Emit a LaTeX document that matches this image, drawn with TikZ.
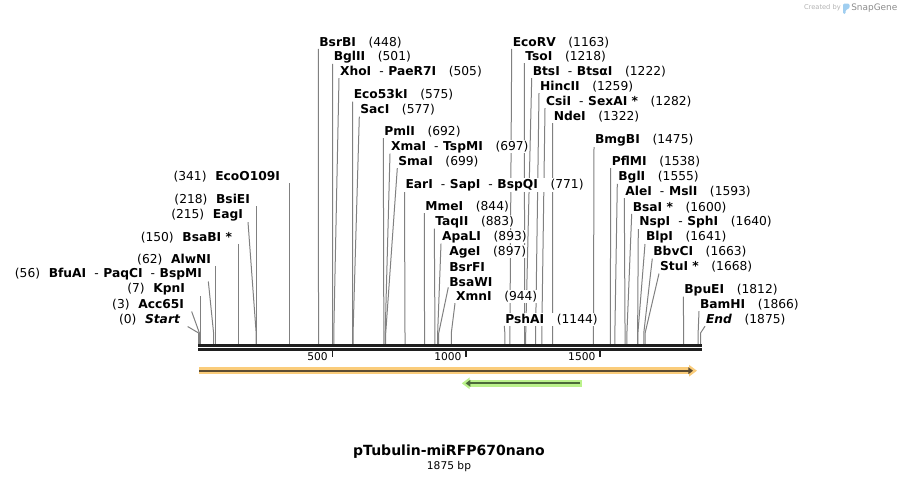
\documentclass[tikz,border=0pt]{standalone}
\usepackage{fontspec}
\setmainfont{DejaVu Sans}
\usetikzlibrary{arrows.meta,backgrounds}

\definecolor{orangeband}{RGB}{250,204,122}
\definecolor{orangeline}{RGB}{92,76,50}
\definecolor{greenband}{RGB}{187,242,140}
\definecolor{greenline}{RGB}{76,106,58}
\definecolor{logoblue}{RGB}{160,206,240}

\newcommand{\siter}[2]{#1\hspace{9.5pt}{\mdseries(#2)}}
\newcommand{\sitel}[2]{{\mdseries(#2)}\hspace{6.5pt}#1}
\newcommand{\orcut}{\hspace{6pt}{\mdseries-}\hspace{3.5pt}}

\tikzset{
  enz/.style={fill=white, inner sep=0.6pt, font=\fontsize{9.2}{10}\selectfont\bfseries},
  enzr/.style={enz, anchor=west},
  enzl/.style={enz, anchor=east},
  lead/.style={draw=black!50, line width=0.75pt},
  backbone/.style={draw=black!88, line width=1.9pt},
  tickmark/.style={draw=black!88, line width=1.4pt},
  ticklbl/.style={anchor=east, inner sep=0pt, font=\fontsize{8}{9}\selectfont},
  featband/.style={line width=5pt},
  featline/.style={line width=1.6pt},
}

\begin{document}
\begin{tikzpicture}[x=0.75pt,y=-0.75pt]
  \useasboundingbox (0,0) rectangle (900,483);

  % Sites on the backbone
  \foreach \b in {0,3,7,56,62,150,215,218,341,448,501,505,575,577,692,697,699,
                  771,844,883,893,897,944,1144,1163,1218,1222,1259,1282,1322,
                  1475,1538,1555,1593,1600,1640,1641,1663,1668,1812,1866,1875} {
    \coordinate (s_\b) at ({198.6+\b*0.2677},344);
    \coordinate (k_\b) at ({198.6+\b*0.2677},333);
  }

  % Nodes, left of the sites
  \node[enzl] (l_start)    at (181,320)   {\sitel{{\itshape Start}}{0}};
  \node[enzl] (l_acc65i)   at (185,305)   {\sitel{Acc65I}{3}};
  \node[enzl] (l_kpni)     at (186,289.3) {\sitel{KpnI}{7}};
  \node[enzl] (l_bfuai)    at (203,274.5) {\sitel{BfuAI\orcut PaqCI\orcut BspMI}{56}};
  \node[enzl] (l_alwni)    at (212,259.3) {\sitel{AlwNI}{62}};
  \node[enzl] (l_bsabi)    at (233,237.3) {\sitel{BsaBI *}{150}};
  \node[enzl] (l_eagi)     at (244,215)   {\sitel{EagI}{215}};
  \node[enzl] (l_bsiei)    at (251,199.5) {\sitel{BsiEI}{218}};
  \node[enzl] (l_ecoo109i) at (281,176.7) {\sitel{EcoO109I}{341}};

  % Nodes, right of the sites
  \node[enzr] (l_bsrbi)   at (318.3,42.3)  {\siter{BsrBI}{448}};
  \node[enzr] (l_bglii)   at (332.7,56.7)  {\siter{BglII}{501}};
  \node[enzr] (l_xhoi)    at (339,71.7)    {\siter{XhoI\orcut PaeR7I}{505}};
  \node[enzr] (l_eco53ki) at (352.7,95)    {\siter{Eco53kI}{575}};
  \node[enzr] (l_saci)    at (359.3,110)   {\siter{SacI}{577}};
  \node[enzr] (l_pmli)    at (383.3,131.7) {\siter{PmlI}{692}};
  \node[enzr] (l_xmai)    at (390,146.7)   {\siter{XmaI\orcut TspMI}{697}};
  \node[enzr] (l_smai)    at (397.3,161.7) {\siter{SmaI}{699}};
  \node[enzr] (l_eari)    at (404.5,185)   {\siter{EarI\orcut SapI\orcut BspQI}{771}};
  \node[enzr] (l_mmei)    at (424.3,206.7) {\siter{MmeI}{844}};
  \node[enzr] (l_taqii)   at (434.3,221.7) {\siter{TaqII}{883}};
  \node[enzr] (l_apali)   at (441,236.7)   {\siter{ApaLI}{893}};
  \node[enzr] (l_agei)    at (448.3,251.7) {\siter{AgeI}{897}};
  \node[enzr] (l_bsrfi)   at (448.3,266.7) {BsrFI};
  \node[enzr] (l_bsawi)   at (448.3,281.7) {BsaWI};
  \node[enzr] (l_xmni)    at (455,296.7)   {\siter{XmnI}{944}};
  \node[enzr] (l_pshai)   at (504.3,319.3) {\siter{PshAI}{1144}};
  \node[enzr] (l_ecorv)   at (511.7,42.3)  {\siter{EcoRV}{1163}};
  \node[enzr] (l_tsoi)    at (524.3,56.7)  {\siter{TsoI}{1218}};
  \node[enzr] (l_btsi)    at (531.7,71.7)  {\siter{BtsI\orcut BtsαI}{1222}};
  \node[enzr] (l_hincii)  at (539,86.7)    {\siter{HincII}{1259}};
  \node[enzr] (l_csii)    at (545,101.7)   {\siter{CsiI\orcut SexAI *}{1282}};
  \node[enzr] (l_ndei)    at (552.7,116.7) {\siter{NdeI}{1322}};
  \node[enzr] (l_bmgbi)   at (594,140)     {\siter{BmgBI}{1475}};
  \node[enzr] (l_pflmi)   at (610.7,161.7) {\siter{PflMI}{1538}};
  \node[enzr] (l_bgli)    at (617.3,176.7) {\siter{BglI}{1555}};
  \node[enzr] (l_alei)    at (624.3,191.7) {\siter{AleI\orcut MslI}{1593}};
  \node[enzr] (l_bsai)    at (631.7,207.3) {\siter{BsaI *}{1600}};
  \node[enzr] (l_nspi)    at (638.3,222)   {\siter{NspI\orcut SphI}{1640}};
  \node[enzr] (l_blpi)    at (645,237)     {\siter{BlpI}{1641}};
  \node[enzr] (l_bbvci)   at (652.3,252)   {\siter{BbvCI}{1663}};
  \node[enzr] (l_stui)    at (659,267)     {\siter{StuI *}{1668}};
  \node[enzr] (l_bpuei)   at (683.3,289.7) {\siter{BpuEI}{1812}};
  \node[enzr] (l_bamhi)   at (699,304.7)   {\siter{BamHI}{1866}};
  \node[enzr] (l_end)     at (705,319.7)   {\siter{{\itshape End}}{1875}};

  % Leaders
  \begin{pgfonlayer}{background}
    \draw[lead] ([xshift=5pt]l_start.south east) -- (k_0) -- (s_0); %
    \draw[lead] ([xshift=5pt]l_acc65i.south east) -- (k_3) -- (s_3); %
    \draw[lead] (s_7 |- l_kpni.south) -- (s_7); %
    \draw[lead] ([xshift=4pt]l_bfuai.south east) -- (k_56) -- (s_56); %
    \draw[lead] (s_62 |- l_alwni.south) -- (s_62); %
    \draw[lead] (s_150 |- l_bsabi.south) -- (s_150); %
    \draw[lead] ([xshift=3pt]l_eagi.south east) -- (k_215) -- (s_215); %
    \draw[lead] (s_218 |- l_bsiei.south) -- (s_218); %
    \draw[lead] (s_341 |- l_ecoo109i.south) -- (s_341); %

    \draw[lead] (l_bsrbi.south west) -- (k_448) -- (s_448); %
    \draw[lead] (l_bglii.south west) -- (k_501) -- (s_501); %
    \draw[lead] (l_xhoi.south west) -- (k_505) -- (s_505); %
    \draw[lead] (l_eco53ki.south west) -- (k_575) -- (s_575); %
    \draw[lead] (l_saci.south west) -- (k_577) -- (s_577); %
    \draw[lead] (l_pmli.south west) -- (k_692) -- (s_692); %
    \draw[lead] (l_xmai.south west) -- (k_697) -- (s_697); %
    \draw[lead] (l_smai.south west) -- (k_699) -- (s_699); %
    \draw[lead] (l_eari.south west) -- (k_771) -- (s_771); %
    \draw[lead] (l_mmei.south west) -- (k_844) -- (s_844); %
    \draw[lead] (l_taqii.south west) -- (k_883) -- (s_883); %
    \draw[lead] (l_apali.south west) -- (k_893) -- (s_893); %
    \draw[lead] (l_bsawi.south west) -- (k_897) -- (s_897); %
    \draw[lead] (l_xmni.south west) -- (k_944) -- (s_944); %
    \draw[lead] (l_pshai.south west) -- (k_1144) -- (s_1144); %
    \draw[lead] (l_ecorv.south west) -- (k_1163) -- (s_1163); %
    \draw[lead] (l_tsoi.south west) -- (k_1218) -- (s_1218); %
    \draw[lead] (l_btsi.south west) -- (k_1222) -- (s_1222); %
    \draw[lead] (l_hincii.south west) -- (k_1259) -- (s_1259); %
    \draw[lead] (l_csii.south west) -- (k_1282) -- (s_1282); %
    \draw[lead] (l_ndei.south west) -- (k_1322) -- (s_1322); %
    \draw[lead] (l_bmgbi.south west) -- (k_1475) -- (s_1475); %
    \draw[lead] (l_pflmi.south west) -- (k_1538) -- (s_1538); %
    \draw[lead] (l_bgli.south west) -- (k_1555) -- (s_1555); %
    \draw[lead] (l_alei.south west) -- (k_1593) -- (s_1593); %
    \draw[lead] (l_bsai.south west) -- (k_1600) -- (s_1600); %
    \draw[lead] (l_nspi.south west) -- (k_1640) -- (s_1640); %
    \draw[lead] (l_blpi.south west) -- (k_1641) -- (s_1641); %
    \draw[lead] (l_bbvci.south west) -- (k_1663) -- (s_1663); %
    \draw[lead] (l_stui.south west) -- (k_1668) -- (s_1668); %
    \draw[lead] (l_bpuei.south west) -- (k_1812) -- (s_1812); %
    \draw[lead] (l_bamhi.south west) -- (k_1866) -- (s_1866); %
    \draw[lead] (l_end.south west) -- (k_1875) -- (s_1875); %
  \end{pgfonlayer}

  % Backbone and ruler
  \coordinate (bar_l) at (198.4,345.4);
  \coordinate (bar_r) at (701.7,345.4);
  \draw[backbone] (bar_l) -- (bar_r);
  \draw[backbone] ([yshift=-3.2pt]bar_l) -- ([yshift=-3.2pt]bar_r);
  \foreach \t in {500,1000,1500} {
    \draw[tickmark] ({198.6+\t*0.2677},350.6) -- ++(0,6.2);
    \node[ticklbl] (t_\t) at ({198.6+\t*0.2677-4.5},357) {\t};
  }

  % Features
  \coordinate (f1_a) at (199,370.7);
  \coordinate (f1_b) at (697,370.7);
  \draw[featband, draw=orangeband, -{Triangle[length=6pt,width=8.5pt]}] (f1_a) -- (f1_b);
  \draw[featline, draw=orangeline, -{Triangle[length=3.5pt,width=5pt]}] (f1_a) -- ([xshift=-3pt]f1_b);

  \coordinate (f2_a) at (581.7,383.3);
  \coordinate (f2_b) at (461.7,383.3);
  \draw[featband, draw=greenband, -{Triangle[length=6pt,width=8.5pt]}] (f2_a) -- (f2_b);
  \draw[featline, draw=greenline, -{Triangle[length=3.5pt,width=5pt]}] ([xshift=-1pt]f2_a) -- ([xshift=3pt]f2_b);

  % Title
  \node[font=\fontsize{10.5}{12}\selectfont\bfseries] (title) at (449,452) {pTubulin-miRFP670nano};
  \node[font=\fontsize{8}{9}\selectfont] (size) at (449,467) {1875 bp};

  % Watermark
  \node[anchor=east, inner sep=0pt, text=black!30, font=\fontsize{5}{6}\selectfont] (wm_by) at (841,8) {Created by};
  \fill[logoblue, rounded corners=1pt] (843,3.5) -- (849.5,3.5) -- (849.5,8.5) -- (845.6,9.8) -- (845.6,14) -- (843,14) -- cycle;
  \node[anchor=west, inner sep=0pt, text=black!45, font=\fontsize{6.7}{8}\selectfont] (wm_sg) at (851,8) {SnapGene};

\end{tikzpicture}
\end{document}
